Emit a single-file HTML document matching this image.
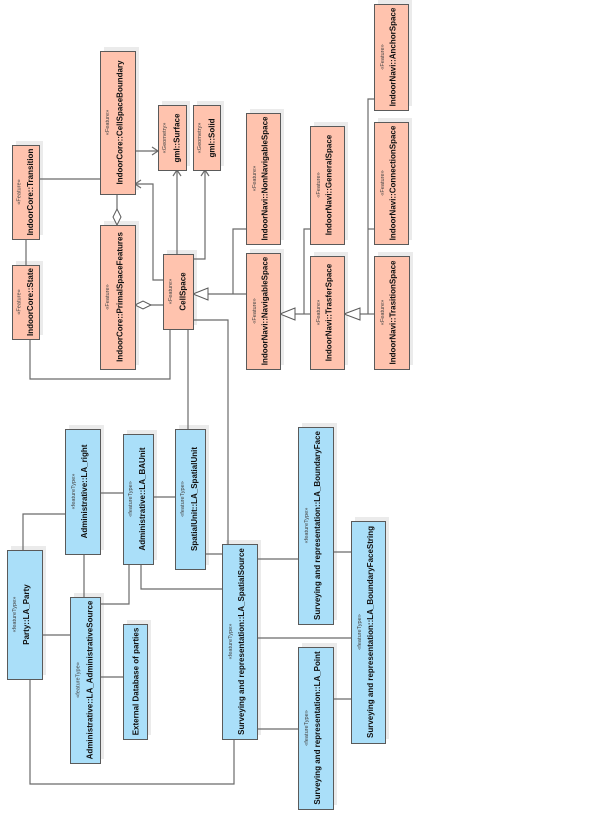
<!DOCTYPE html>
<html>
<head>
<meta charset="utf-8">
<style>
html,body{margin:0;padding:0;background:#fff;}
svg{display:block;}
.s{fill:#ffc3ae;stroke:#5a5a5a;stroke-width:1;}
.b{fill:#aadff9;stroke:#5a5a5a;stroke-width:1;}
.sh{fill:#ebebeb;stroke:none;}
.l{fill:none;stroke:#6b6b6b;stroke-width:1.2;}
.st{font-family:"Liberation Sans",sans-serif;font-size:5.6px;fill:#444;}
.nm{font-family:"Liberation Sans",sans-serif;font-size:8px;font-weight:bold;fill:#111;}
</style>
</head>
<body>
<svg width="600" height="815" viewBox="0 0 600 815" xmlns="http://www.w3.org/2000/svg">
<rect width="600" height="815" fill="#fff"/>

<!-- shadows -->
<g class="sh">
<rect x="104" y="47" width="35" height="143"/>
<rect x="162" y="101" width="28" height="65"/>
<rect x="197" y="101" width="27" height="65"/>
<rect x="16" y="141" width="27" height="94"/>
<rect x="16" y="261" width="27" height="74"/>
<rect x="104" y="221" width="35" height="144"/>
<rect x="167" y="250" width="30" height="75"/>
<rect x="250" y="109" width="34" height="131"/>
<rect x="250" y="249" width="34" height="116"/>
<rect x="314" y="122" width="34" height="118"/>
<rect x="314" y="252" width="34" height="113"/>
<rect x="378" y="0" width="34" height="106"/>
<rect x="378" y="118" width="34" height="122"/>
<rect x="378" y="252" width="35" height="113"/>
<rect x="11" y="546" width="35" height="129"/>
<rect x="69" y="425" width="35" height="125"/>
<rect x="127" y="430" width="30" height="130"/>
<rect x="179" y="425" width="30" height="140"/>
<rect x="74" y="593" width="30" height="166"/>
<rect x="127" y="620" width="24" height="115"/>
<rect x="226" y="540" width="35" height="195"/>
<rect x="302" y="423" width="35" height="197"/>
<rect x="355" y="517" width="34" height="222"/>
<rect x="302" y="643" width="35" height="162"/>
</g>

<!-- connectors -->
<g class="l">
<path d="M135 151 H158"/>
<path d="M152 147 L158 151 L152 155"/>
<path d="M177 254 V170"/>
<path d="M173 176 L177 170 L181 176"/>
<path d="M193 259 H205 V170"/>
<path d="M201 176 L205 170 L209 176"/>
<path d="M163 280 H153 V184 H135"/>
<path d="M141 180 L135 184 L141 188"/>
<path d="M117 194 V209"/>
<path d="M135 305 H163"/>
<path d="M39 179 H100"/>
<path d="M26 239 V265"/>
<path d="M30 339 V379 H170 V329"/>
<path d="M208 294 H246"/>
<path d="M233 294 V229 H246"/>
<path d="M295 314 H310"/>
<path d="M304 314 V229 H310"/>
<path d="M360 314 H374"/>
<path d="M368 314 V99 H374"/>
<path d="M368 229 H374"/>
<path d="M188 329 V429"/>
<path d="M193 320 H228 V544"/>
<path d="M23 550 V514 H65"/>
<path d="M42 635 H70"/>
<path d="M30 679 V784 H234 V739"/>
<path d="M100 493 H123"/>
<path d="M84 554 V597"/>
<path d="M129 564 V604 H100"/>
<path d="M100 677 H123"/>
<path d="M153 497 H175"/>
<path d="M205 554 H222"/>
<path d="M141 564 V589 H222"/>
<path d="M257 559 H298"/>
<path d="M257 638 H351"/>
<path d="M257 729 H298"/>
<path d="M333 552 H351"/>
<path d="M333 699 H351"/>
</g>
<!-- diamonds and triangles -->
<g fill="#fff" stroke="#5a5a5a" stroke-width="1">
<path d="M117 209 L121 217 L117 225 L113 217 Z"/>
<path d="M135 305 L143 301 L151 305 L143 309 Z"/>
<path d="M193 294 L208 288 L208 300 Z"/>
<path d="M280 314 L295 308 L295 320 Z"/>
<path d="M344 314 L360 308 L360 320 Z"/>
</g>

<!-- boxes -->
<rect class="s" x="100.5" y="51.5" width="35" height="143"/>
<rect class="s" x="158.5" y="105.5" width="28" height="65"/>
<rect class="s" x="193.5" y="105.5" width="27" height="65"/>
<rect class="s" x="12.5" y="145.5" width="27" height="94"/>
<rect class="s" x="12.5" y="265.5" width="27" height="74"/>
<rect class="s" x="100.5" y="225.5" width="35" height="144"/>
<rect class="s" x="163.5" y="254.5" width="30" height="75"/>
<rect class="s" x="246.5" y="113.5" width="34" height="131"/>
<rect class="s" x="246.5" y="253.5" width="34" height="116"/>
<rect class="s" x="310.5" y="126.5" width="34" height="118"/>
<rect class="s" x="310.5" y="256.5" width="34" height="113"/>
<rect class="s" x="374.5" y="4.5" width="34" height="106"/>
<rect class="s" x="374.5" y="122.5" width="34" height="122"/>
<rect class="s" x="374.5" y="256.5" width="35" height="113"/>

<rect class="b" x="7.5" y="550.5" width="35" height="129"/>
<rect class="b" x="65.5" y="429.5" width="35" height="125"/>
<rect class="b" x="123.5" y="434.5" width="30" height="130"/>
<rect class="b" x="175.5" y="429.5" width="30" height="140"/>
<rect class="b" x="70.5" y="597.5" width="30" height="166"/>
<rect class="b" x="123.5" y="624.5" width="24" height="115"/>
<rect class="b" x="222.5" y="544.5" width="35" height="195"/>
<rect class="b" x="298.5" y="427.5" width="35" height="197"/>
<rect class="b" x="351.5" y="521.5" width="34" height="222"/>
<rect class="b" x="298.5" y="647.5" width="35" height="162"/>

<!-- text -->
<g text-anchor="middle" dominant-baseline="central">
<text class="st" transform="translate(108,122.5) rotate(-90)">«Feature»</text>
<text class="nm" transform="translate(120,122.5) rotate(-90)">IndoorCore::CellSpaceBoundary</text>
<text class="st" transform="translate(165,138) rotate(-90)">«Geometry»</text>
<text class="nm" transform="translate(177,138) rotate(-90)">gml::Surface</text>
<text class="st" transform="translate(200,138) rotate(-90)">«Geometry»</text>
<text class="nm" transform="translate(212,138) rotate(-90)">gml::Solid</text>
<text class="st" transform="translate(19.5,192) rotate(-90)">«Feature»</text>
<text class="nm" transform="translate(30.5,192) rotate(-90)">IndoorCore::Transition</text>
<text class="st" transform="translate(19.5,302) rotate(-90)">«Feature»</text>
<text class="nm" transform="translate(30.5,302) rotate(-90)">IndoorCore::State</text>
<text class="st" transform="translate(108,297) rotate(-90)">«Feature»</text>
<text class="nm" transform="translate(120,297) rotate(-90)">IndoorCore::PrimalSpaceFeatures</text>
<text class="st" transform="translate(171,291.5) rotate(-90)">«Feature»</text>
<text class="nm" transform="translate(183,291.5) rotate(-90)">CellSpace</text>
<text class="st" transform="translate(255,178.5) rotate(-90)">«Feature»</text>
<text class="nm" transform="translate(265,178.5) rotate(-90)">IndoorNavi::NonNavigableSpace</text>
<text class="st" transform="translate(255,311) rotate(-90)">«Feature»</text>
<text class="nm" transform="translate(265,311) rotate(-90)">IndoorNavi::NavigableSpace</text>
<text class="st" transform="translate(319,185) rotate(-90)">«Feature»</text>
<text class="nm" transform="translate(329,185) rotate(-90)">IndoorNavi::GeneralSpace</text>
<text class="st" transform="translate(319,312.5) rotate(-90)">«Feature»</text>
<text class="nm" transform="translate(329,312.5) rotate(-90)">IndoorNavi::TrasferSpace</text>
<text class="st" transform="translate(383,57) rotate(-90)">«Feature»</text>
<text class="nm" transform="translate(393,57) rotate(-90)">IndoorNavi::AnchorSpace</text>
<text class="st" transform="translate(383,183) rotate(-90)">«Feature»</text>
<text class="nm" transform="translate(393,183) rotate(-90)">IndoorNavi::ConnectionSpace</text>
<text class="st" transform="translate(383,312.5) rotate(-90)">«Feature»</text>
<text class="nm" transform="translate(393,312.5) rotate(-90)">IndoorNavi::TrasitionSpace</text>

<text class="st" transform="translate(15,614.5) rotate(-90)">«featureType»</text>
<text class="nm" transform="translate(26.5,614.5) rotate(-90)">Party::LA_Party</text>
<text class="st" transform="translate(74,491.5) rotate(-90)">«featureType»</text>
<text class="nm" transform="translate(84.5,491.5) rotate(-90)">Administrative::LA_right</text>
<text class="st" transform="translate(131,499) rotate(-90)">«featureType»</text>
<text class="nm" transform="translate(142.5,499) rotate(-90)">Administrative::LA_BAUnit</text>
<text class="st" transform="translate(183,499) rotate(-90)">«featureType»</text>
<text class="nm" transform="translate(194.5,499) rotate(-90)">SpatialUnit::LA_SpatialUnit</text>
<text class="st" transform="translate(78.5,680) rotate(-90)">«featureType»</text>
<text class="nm" transform="translate(90,680) rotate(-90)">Administrative::LA_AdministrativeSource</text>
<text class="nm" transform="translate(136,681.5) rotate(-90)">External Database of parties</text>
<text class="st" transform="translate(231,641.5) rotate(-90)">«featureType»</text>
<text class="nm" transform="translate(241.5,641.5) rotate(-90)">Surveying and representation::LA_SpatialSource</text>
<text class="st" transform="translate(307,525.5) rotate(-90)">«featureType»</text>
<text class="nm" transform="translate(317.5,525.5) rotate(-90)">Surveying and representation::LA_BoundaryFace</text>
<text class="st" transform="translate(360,632) rotate(-90)">«featureType»</text>
<text class="nm" transform="translate(370.5,632) rotate(-90)">Surveying and representation::LA_BoundaryFaceString</text>
<text class="st" transform="translate(307,728) rotate(-90)">«featureType»</text>
<text class="nm" transform="translate(317.5,728) rotate(-90)">Surveying and representation::LA_Point</text>
</g>
</svg>
</body>
</html>
